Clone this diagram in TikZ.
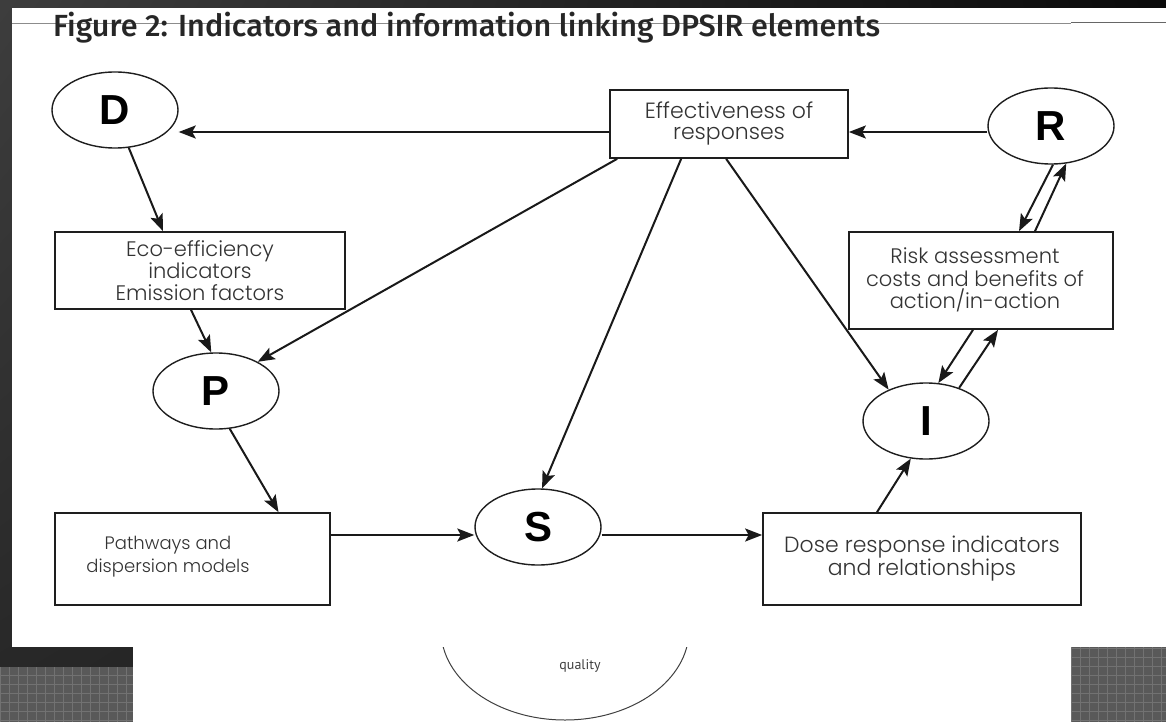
\documentclass[tikz,border=0pt]{standalone}
\usepackage{fontspec}
\setmainfont{Poppins}[UprightFont={* Light}]
\newfontfamily\titlefont{Fira Sans}[UprightFont={* Medium}]
\newfontfamily\smallfont{PT Sans}
\newfontfamily\letterfont{Liberation Sans}
\usetikzlibrary{arrows.meta,shapes.geometric,shadings}
\definecolor{inkgray}{HTML}{333333}
\definecolor{framegray}{HTML}{1E1E1E}
\definecolor{texgray}{HTML}{595959}
\definecolor{texline}{HTML}{727272}
\tikzset{
  letter/.style={ellipse, draw=framegray, line width=1.4pt, minimum width=126pt,
    minimum height=76pt, inner sep=0pt, fill=white,
    font=\letterfont\bfseries\fontsize{42}{42}\selectfont},
  infobox/.style={rectangle, draw=framegray, line width=1.7pt, inner sep=0pt,
    align=center, text=inkgray},
  boxtext/.style={align=center, text=inkgray, inner sep=0pt},
  arr/.style={line width=2pt, draw=black!90,
    -{Stealth[length=17pt,width=13pt,inset=3.5pt]}},
}
\begin{document}
\begin{tikzpicture}[x=1pt,y=-1pt]
\useasboundingbox (0,0) rectangle (1166,722);
% slide background
\shade[upper left=black!76, upper right=black!96, lower left=black!85, lower right=black!92]
  (0,0) rectangle (1166,722);
% textured corners of the slide
\fill[texgray] (0,667) rectangle (133,722);
\fill[texgray] (1071,647) rectangle (1166,722);
\begin{scope}
  \clip (0,667) rectangle (133,722);
  \draw[texline, line width=0.5pt] (0,660) grid[step=9pt] (140,730);
\end{scope}
\begin{scope}
  \clip (1071,647) rectangle (1166,722);
  \draw[texline, line width=0.5pt] (1060,640) grid[step=9pt] (1170,730);
\end{scope}
% white page of the figure
\fill[white] (12,8) rectangle (1166,647);
\fill[white] (133,647) rectangle (1071,722);
% rule through the heading
\draw[black!45, line width=0.8pt] (12,23) -- (1071,23);
\draw[black!60, line width=1pt] (1071,23) -- (1166,23);
\node[anchor=base west, inner sep=0pt, text=black!85,
  font=\titlefont\fontsize{30.6}{30.6}\selectfont] (title) at (53,37)
  {Figure 2: Indicators and information linking DPSIR elements};

% DPSIR elements
\node[letter] (D) at (115,110) {D};
\node[letter] (R) at (1051,126) {R};
\node[letter] (P) at (216,391) {P};
\node[letter] (S) at (538,527) {S};
\node[letter] (I) at (926,421) {I};

% information boxes
\node[infobox, minimum width=238pt, minimum height=68pt,
  font=\fontsize{22}{21}\selectfont] (eff) at (729,124)
  {Effectiveness of\\responses};
\node[infobox, minimum width=290pt, minimum height=77pt,
  font=\fontsize{21}{22}\selectfont] (eco) at (200,270.5)
  {Eco-efficiency\\indicators\\Emission factors};
\node[infobox, minimum width=264pt, minimum height=97pt] (risk) at (981,280.5) {};
\node[boxtext, font=\fontsize{21}{22.5}\selectfont] (risktxt) at (975,280)
  {Risk assessment\\costs and benefits of\\action/in-action};
\node[infobox, minimum width=275pt, minimum height=92pt] (path) at (192.5,559) {};
\node[boxtext, font=\fontsize{18}{23}\selectfont] (pathtxt) at (168,557)
  {Pathways and\\dispersion models};
\node[infobox, minimum width=318pt, minimum height=92pt,
  font=\fontsize{22}{23}\selectfont] (dose) at (922,559)
  {Dose response indicators\\and relationships};

% connectors
\draw[arr] ([yshift=-8pt]eff.west) -- ([yshift=-8pt]eff.west -| D.east);
\draw[arr] ([yshift=-6pt]R.west) -- ([yshift=-6pt]R.west -| eff.east);
\draw[arr] (D.-70) -- ([xshift=-37pt]eco.north);
\draw[arr] ([xshift=-9pt]eco.south) -- (P.97);
\draw[arr] ([xshift=8pt]eff.south west) -- (P.35);
\draw[arr] ([xshift=72pt]eff.south west) -- (S.84);
\draw[arr] ([xshift=117pt]eff.south west) -- (I.140);
\draw[arr] ([xshift=2pt]R.south) -- ([xshift=38pt]risk.north);
\draw[arr] ([xshift=54pt]risk.north) -- (R.-68);
\draw[arr] ([xshift=-8pt]risk.south) -- (I.72);
\draw[arr] (I.45) -- ([xshift=17pt]risk.south);
\draw[arr] (P.-70) -- ([xshift=86pt]path.north);
\draw[arr] ([yshift=-8pt]S.west -| path.east) -- ([yshift=-8pt]S.west);
\draw[arr] ([yshift=-8pt]S.east) -- ([yshift=-8pt]S.east -| dose.west);
\draw[arr] ([xshift=-45pt]dose.north) -- (I.-112);

% partly covered shape on the slide below the figure
\begin{scope}
  \clip (133,647) rectangle (1071,722);
  \draw[black!75, line width=1pt] (565,630) ellipse [x radius=124, y radius=90];
\end{scope}
\node[text=black!75, inner sep=0pt, font=\smallfont\fontsize{14}{14}\selectfont]
  (quality) at (580,666) {quality};
\end{tikzpicture}
\end{document}
